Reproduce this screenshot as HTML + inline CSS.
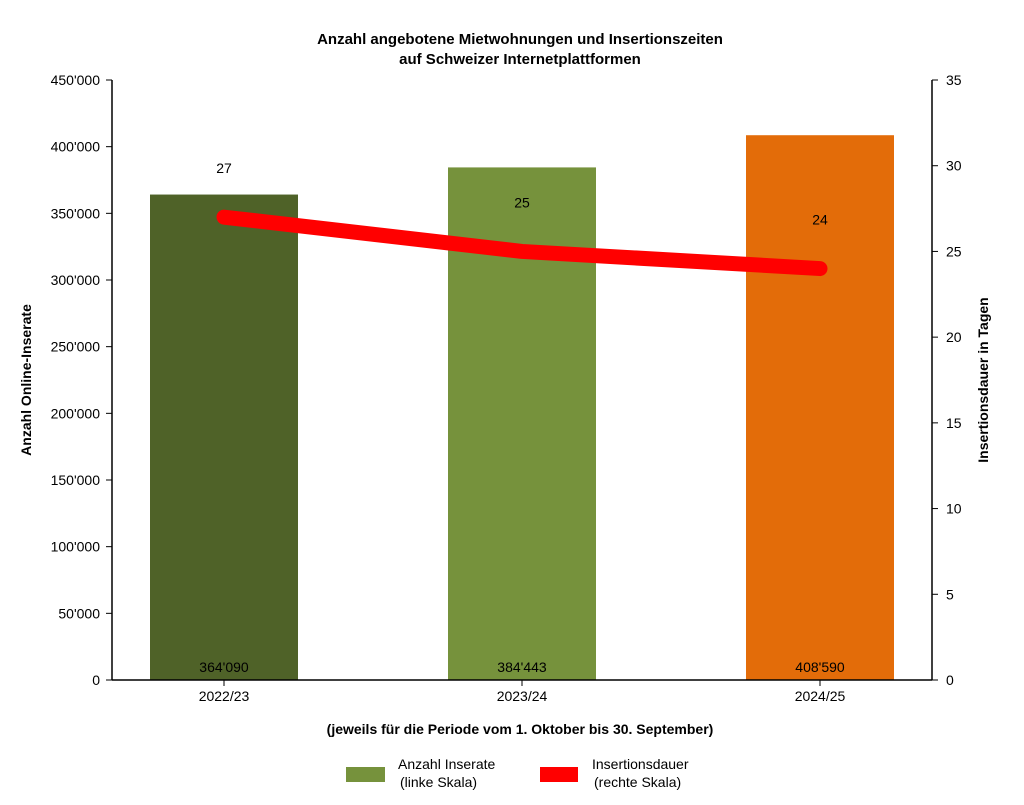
<!DOCTYPE html>
<html><head><meta charset="utf-8"><style>
body{margin:0;background:#fff;}
svg text{font-family:"Liberation Sans",Arial,sans-serif;fill:#000;}
</style></head><body>
<svg id="chart" width="1024" height="800" xmlns="http://www.w3.org/2000/svg">
<g>
<text x="520" y="44" font-size="15" font-weight="bold" text-anchor="middle">Anzahl angebotene Mietwohnungen und Insertionszeiten</text>
<text x="520" y="64" font-size="15" font-weight="bold" text-anchor="middle">auf Schweizer Internetplattformen</text>
</g>
<g id="bars"></g><g id="line"></g><g id="axes"></g>
<text transform="translate(31,380) rotate(-90)" font-size="14" font-weight="bold" text-anchor="middle">Anzahl Online-Inserate</text>
<text transform="translate(988,380) rotate(-90)" font-size="14" font-weight="bold" text-anchor="middle">Insertionsdauer in Tagen</text>
<text x="520" y="734" font-size="14" font-weight="bold" text-anchor="middle">(jeweils für die Periode vom 1. Oktober bis 30. September)</text>
<g>
<rect x="346" y="767" width="39" height="15" fill="#76923c"/>
<text x="398" y="769" font-size="14">Anzahl Inserate</text>
<text x="400" y="787" font-size="14">(linke Skala)</text>
<rect x="540" y="767" width="38" height="15" fill="#ff0000"/>
<text x="592" y="769" font-size="14">Insertionsdauer</text>
<text x="594" y="787" font-size="14">(rechte Skala)</text>
</g>
</svg>
<script>
const categories=["2022/23","2023/24","2024/25"];
const listings=[364090,384443,408590];
const duration=[27,25,24];
const barLabels=["364'090","384'443","408'590"];
const leftTicks=[0,50000,100000,150000,200000,250000,300000,350000,400000,450000];
const rightTicks=[0,5,10,15,20,25,30,35];
const barColors=["#4f6228","#76923c","#e36c09"];
const NS="http://www.w3.org/2000/svg";
const x0=112,x1=932,yb=680,yt=80;
const yL=v=>yb-v/450000*(yb-yt);
const yR=v=>yb-v/35*(yb-yt);
const xC=i=>224+i*298;
function mk(t,a,p){const e=document.createElementNS(NS,t);for(const k in a)e.setAttribute(k,a[k]);p.appendChild(e);return e;}
const fmt=v=>v===0?"0":String(v).replace(/(\d)(?=(\d{3})+$)/g,"$1'");
const bars=document.getElementById('bars');
categories.forEach((c,i)=>{
 const r=mk('rect',{x:xC(i)-74,y:yL(listings[i]),width:148,height:yb-yL(listings[i]),fill:barColors[i]},bars);
 
 
 const t=mk('text',{x:xC(i),y:672,'font-size':14,'text-anchor':'middle'},bars);t.textContent=barLabels[i];
 
 
});
const lg=document.getElementById('line');
const pl=mk('polyline',{points:duration.map((d,i)=>xC(i)+','+yR(d)).join(' '),fill:'none',stroke:'#ff0000','stroke-width':15,'stroke-linecap':'round','stroke-linejoin':'round'},lg);


duration.forEach((d,i)=>{
 const t=mk('text',{x:xC(i),y:yR(d)-44,'font-size':14,'text-anchor':'middle'},lg);t.textContent=d;
 
 
});
const ax=document.getElementById('axes');
mk('line',{x1:x0,y1:yt,x2:x0,y2:yb,stroke:'#000','stroke-width':1.5},ax);
mk('line',{x1:x1,y1:yt,x2:x1,y2:yb,stroke:'#000','stroke-width':1.5},ax);
mk('line',{x1:x0,y1:yb,x2:x1,y2:yb,stroke:'#000','stroke-width':1.5},ax);
leftTicks.forEach(v=>{const y=yL(v);mk('line',{x1:x0-6,y1:y,x2:x0,y2:y,stroke:'#000'},ax);
 const t=mk('text',{x:x0-12,y:y+5,'font-size':14,'text-anchor':'end'},ax);t.textContent=fmt(v);
 
 });
rightTicks.forEach(v=>{const y=yR(v);mk('line',{x1:x1,y1:y,x2:x1+6,y2:y,stroke:'#000'},ax);
 const t=mk('text',{x:x1+14,y:y+5,'font-size':14},ax);t.textContent=v;
 
 });
categories.forEach((c,i)=>{mk('line',{x1:xC(i),y1:yb,x2:xC(i),y2:yb+6,stroke:'#000'},ax);
 const t=mk('text',{x:xC(i),y:yb+21,'font-size':14,'text-anchor':'middle'},ax);t.textContent=c;
 
 });
</script>
</body></html>
